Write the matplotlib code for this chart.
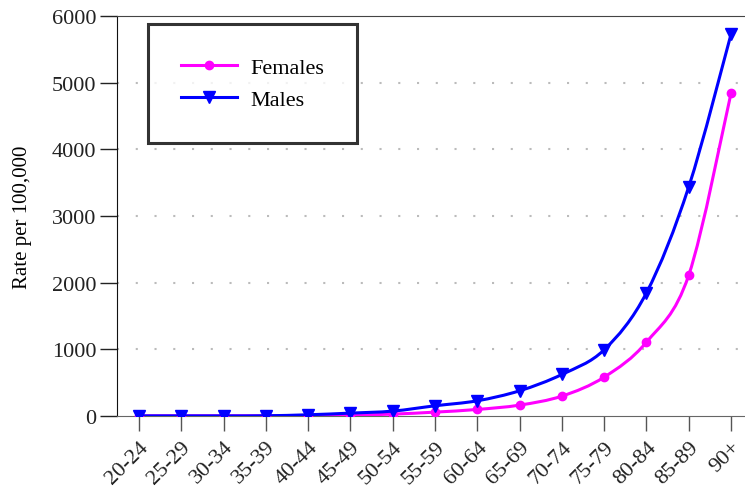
import numpy as np
import matplotlib.pyplot as plt
from matplotlib.path import Path
from matplotlib.patches import PathPatch

plt.rcParams['font.family'] = ['Liberation Serif', 'DejaVu Serif']

# age groups and rates per 100,000
age_groups = ['20-24', '25-29', '30-34', '35-39', '40-44', '45-49', '50-54',
              '55-59', '60-64', '65-69', '70-74', '75-79', '80-84', '85-89', '90+']
females = [5, 5, 5, 5, 8, 15, 30, 60, 100, 165, 300, 585, 1110, 2115, 4845]
males = [3, 3, 3, 5, 20, 45, 75, 155, 230, 380, 625, 995, 1850, 3440, 5730]


# smooth line through the points, built from cubic bezier segments
def smooth_path(x, y, t=1/6):
    x = np.asarray(x, float)
    y = np.asarray(y, float)
    verts = [(x[0], y[0])]
    codes = [Path.MOVETO]
    n = len(x)
    for i in range(n - 1):
        x0, y0 = (x[i-1], y[i-1]) if i > 0 else (x[i], y[i])
        x3, y3 = (x[i+2], y[i+2]) if i + 2 < n else (x[i+1], y[i+1])
        c1 = (x[i] + (x[i+1] - x0) * t, y[i] + (y[i+1] - y0) * t)
        c2 = (x[i+1] - (x3 - x[i]) * t, y[i+1] - (y3 - y[i]) * t)
        verts += [c1, c2, (x[i+1], y[i+1])]
        codes += [Path.CURVE4] * 3
    return Path(verts, codes)


fig = plt.figure(figsize=(7.45, 4.89), dpi=100)
ax = fig.add_axes([0.157, 0.147, 0.843, 0.818])

xpos = np.arange(len(age_groups))

ax.add_patch(PathPatch(smooth_path(xpos, females), fill=False, edgecolor='#ff00ff', lw=2.2, zorder=3))
ax.add_patch(PathPatch(smooth_path(xpos, males), fill=False, edgecolor='#0000ff', lw=2.2, zorder=4))
ax.plot(xpos, females, 'o', color='#ff00ff', ms=6, zorder=3)
ax.plot(xpos, males, 'v', color='#0000ff', ms=8, zorder=4)

# legend handles
ax.plot([], [], '-o', color='#ff00ff', lw=2.2, ms=6, label='Females')
ax.plot([], [], '-v', color='#0000ff', lw=2.2, ms=8, label='Males')

ax.set_xlim(-0.52, 14.33)
ax.set_ylim(0, 6000)
ax.set_yticks(range(0, 6001, 1000))
ax.set_xticks(xpos)
ax.set_xticklabels(age_groups, rotation=45, ha='right', va='top', rotation_mode='anchor')
ax.tick_params(axis='both', direction='out', length=12, width=1, labelsize=16, colors='#222222')
ax.tick_params(axis='y', pad=3)
ax.tick_params(axis='x', length=11, pad=4, color='#555555')
ax.set_ylabel('Rate per 100,000', fontsize=15, labelpad=14)

for y in range(1000, 6000, 1000):
    ax.axhline(y, color='#bbbbbb', lw=1.5, ls=(0, (1, 8)), zorder=1)

ax.spines['right'].set_visible(False)
ax.spines['top'].set_color('#444444')
ax.spines['bottom'].set_color('#666666')
ax.spines['left'].set_color('#111111')

leg = ax.legend(loc='upper left', bbox_to_anchor=(0.049, 0.98), fontsize=16,
                frameon=True, fancybox=False, edgecolor='black', borderpad=1.5,
                handlelength=2.5, handletextpad=0.6, labelspacing=0.5, borderaxespad=0)
leg.get_frame().set_linewidth(2.2)

plt.savefig('out.png', dpi=100)
